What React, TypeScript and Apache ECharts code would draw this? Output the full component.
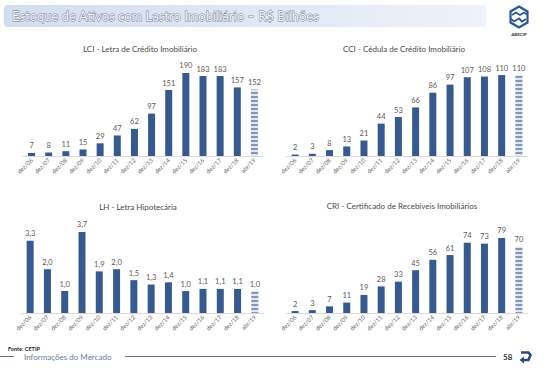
import React, { useEffect, useRef } from "react";
import * as echarts from "echarts";

const categories = ["dez/06", "dez/07", "dez/08", "dez/09", "dez/10", "dez/11", "dez/12", "dez/13", "dez/14", "dez/15", "dez/16", "dez/17", "dez/18", "abr/19"];
const lciValues = [7, 8, 11, 15, 29, 47, 62, 97, 151, 190, 183, 183, 157, 152];
const cciValues = [2, 3, 8, 13, 21, 44, 53, 66, 86, 97, 107, 108, 110, 110];
const lhValues = [3.3, 2.0, 1.0, 3.7, 1.9, 2.0, 1.5, 1.3, 1.4, 1.0, 1.1, 1.1, 1.1, 1.0];
const criValues = [2, 3, 7, 11, 19, 28, 33, 45, 56, 61, 74, 73, 79, 70];
const panelTitles = [
  "LCI - Letra de Crédito Imobiliário",
  "CCI - Cédula de Crédito Imobiliário",
  "LH - Letra Hipotecária",
  "CRI - Certificado de Recebíveis Imobiliários",
];

const FONT = "Lato, 'Open Sans', sans-serif";
const BAR = "#365a8f";

function buildData(values: number[]) {
  return values.map((v, i) =>
    i === values.length - 1
      ? {
          value: v,
          itemStyle: {
            color: "#e1e7f0",
            decal: {
              symbol: "rect",
              symbolSize: 1,
              dashArrayX: [1, 0],
              dashArrayY: [2, 2],
              color: "#8398bb",
              rotation: 0,
            },
          },
        }
      : v
  );
}

export default function App() {
  const ref = useRef<HTMLDivElement>(null);
  useEffect(() => {
    document.body.style.margin = "0";
    const chart = echarts.init(ref.current!, null, { renderer: "svg" });
    const grids = [
      { left: 23, top: 68.6, width: 240, height: 87.4 },
      { left: 286.5, top: 67.7, width: 241, height: 88.3 },
      { left: 21.5, top: 225.4, width: 242, height: 87.6 },
      { left: 286.5, top: 227.5, width: 241, height: 85.5 },
    ];
    const maxes = [200, 120, 4, 90];
    const seriesValues = [lciValues, cciValues, lhValues, criValues];
    const titlePos = [
      { x: 140, y: 45 },
      { x: 404, y: 45 },
      { x: 138, y: 203 },
      { x: 402, y: 202 },
    ];
    chart.setOption({
      animation: false,
      textStyle: { fontFamily: FONT },
      title: panelTitles.map((t, i) => ({
        text: t,
        left: titlePos[i].x,
        top: titlePos[i].y,
        textAlign: "center",
        padding: 0,
        textStyle: { fontSize: 8, fontWeight: "normal", color: "#4a4a4a", fontFamily: FONT },
      })),
      grid: grids.map((g) => ({ ...g, containLabel: false })),
      xAxis: grids.map((_, i) => ({
        type: "category",
        gridIndex: i,
        data: categories,
        axisTick: { show: false },
        axisLine: { lineStyle: { color: "#d9d9d9", width: 1 } },
        axisLabel: {
          rotate: 45,
          fontSize: 6,
          color: "#666666",
          margin: 3,
          interval: 0,
          fontFamily: FONT,
        },
      })),
      yAxis: grids.map((_, i) => ({
        type: "value",
        gridIndex: i,
        min: 0,
        max: maxes[i],
        show: false,
        splitLine: { show: false },
      })),
      series: seriesValues.map((vals, i) => ({
        type: "bar",
        xAxisIndex: i,
        yAxisIndex: i,
        data: buildData(vals),
        barWidth: 7,
        itemStyle: { color: BAR },
        label: {
          show: true,
          position: "top",
          distance: 3,
          fontSize: 7.5,
          color: "#595959",
          fontFamily: FONT,
          formatter: (p: any) =>
            i === 2 ? Number(p.value).toFixed(1).replace(".", ",") : String(p.value),
        },
      })),
      graphic: [
        {
          type: "rect",
          shape: { x: 4, y: 5, width: 482, height: 22, r: 4 },
          style: {
            fill: {
              type: "linear",
              x: 0,
              y: 0,
              x2: 1,
              y2: 0,
              colorStops: [
                { offset: 0, color: "#d3ddef" },
                { offset: 1, color: "#eef2f9" },
              ],
            },
          },
          silent: true,
        },
        {
          type: "text",
          x: 12,
          y: 16,
          style: {
            text: "Estoque de Ativos com Lastro Imobiliário – R$ Bilhões",
            font: `normal 13px ${FONT}`,
            fill: "#f4f7fb",
            stroke: "#6a7893",
            lineWidth: 0.9,
            verticalAlign: "middle",
          },
          silent: true,
        },
        // logo
        {
          type: "polygon",
          shape: {
            points: [
              [519, 6.5],
              [527.5, 11.5],
              [527.5, 22.5],
              [519, 27.5],
              [510.5, 22.5],
              [510.5, 11.5],
            ],
          },
          style: { fill: "none", stroke: "#245a9c", lineWidth: 2.2 },
          silent: true,
        },
        {
          type: "polyline",
          shape: { points: [[512, 15], [516, 12.5], [520, 15], [524, 12.5], [527, 14.5]] },
          style: { fill: "none", stroke: "#245a9c", lineWidth: 1.8 },
          silent: true,
        },
        {
          type: "polyline",
          shape: { points: [[511, 19], [514, 21.5], [519, 18.5], [522, 21.5], [526, 19]] },
          style: { fill: "none", stroke: "#245a9c", lineWidth: 1.8 },
          silent: true,
        },
        {
          type: "text",
          x: 519,
          y: 34,
          style: {
            text: "ABECIP",
            font: `bold 4.5px ${FONT}`,
            fill: "#333",
            align: "center",
            verticalAlign: "middle",
          },
          silent: true,
        },
        // footer
        {
          type: "text",
          x: 8,
          y: 349,
          style: { text: "Fonte: CETIP", font: `bold 5.5px ${FONT}`, fill: "#222", verticalAlign: "middle" },
          silent: true,
        },
        {
          type: "line",
          shape: { x1: 0, y1: 356.5, x2: 14, y2: 356.5 },
          style: { stroke: "#3c5478", lineWidth: 0.8 },
          silent: true,
        },
        {
          type: "text",
          x: 24,
          y: 356.5,
          style: { text: "Informações do Mercado", font: `8px ${FONT}`, fill: "#6a7d99", verticalAlign: "middle" },
          silent: true,
        },
        {
          type: "line",
          shape: { x1: 125, y1: 356.5, x2: 496, y2: 356.5 },
          style: { stroke: "#3c5478", lineWidth: 0.8 },
          silent: true,
        },
        {
          type: "text",
          x: 503,
          y: 357,
          style: { text: "58", font: `bold 8px ${FONT}`, fill: "#333", verticalAlign: "middle" },
          silent: true,
        },
        {
          type: "polyline",
          shape: { points: [[521, 352.5], [528.5, 352.5], [530.5, 355], [528.5, 360], [523, 360]] },
          style: { fill: "none", stroke: "#2b4a7a", lineWidth: 2.6 },
          silent: true,
        },
        {
          type: "polygon",
          shape: { points: [[524, 356.5], [519.5, 360], [524, 363.5]] },
          style: { fill: "#2b4a7a" },
          silent: true,
        },
      ],
    });
    return () => chart.dispose();
  }, []);
  return <div ref={ref} style={{ position: "absolute", left: 0, top: 0, width: 544, height: 369 }} />;
}
